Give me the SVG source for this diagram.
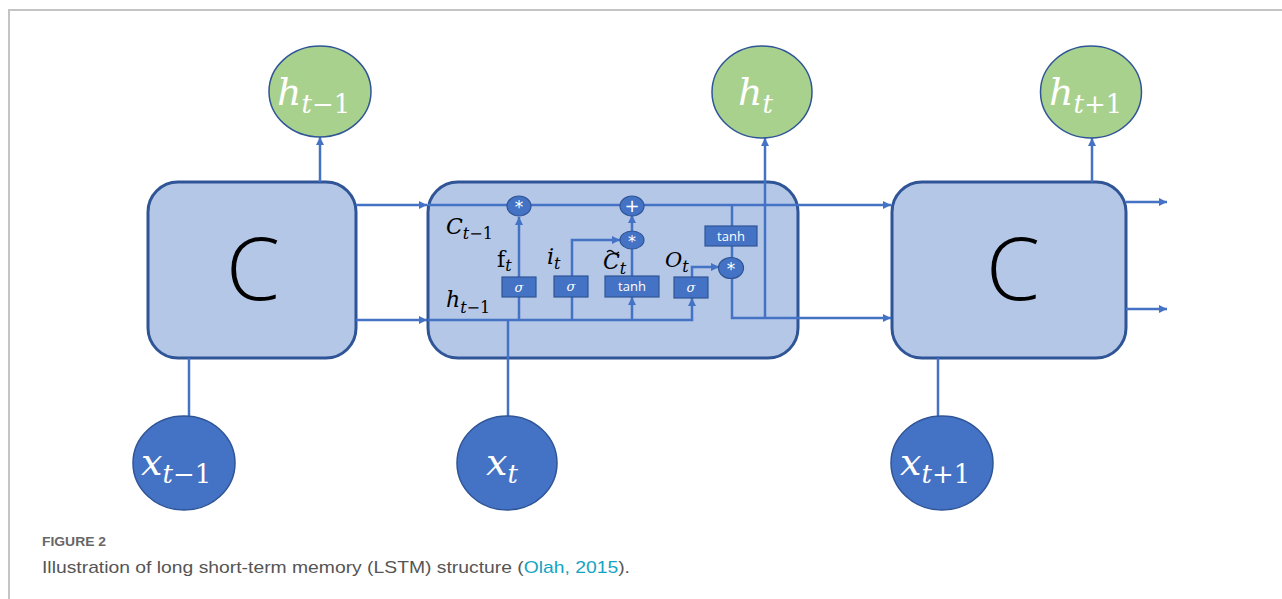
<svg xmlns="http://www.w3.org/2000/svg" width="1282" height="599" viewBox="0 0 1282 599">
<style>
.cell{fill:#b4c7e7;stroke:#2f5597;stroke-width:3}
.hc{fill:#a9d18e;stroke:#2f5597;stroke-width:1.5}
.xc{fill:#4472c4;stroke:#2f5597;stroke-width:1.5}
.op{fill:#4472c4;stroke:#2f5597;stroke-width:1.2}
.gate{fill:#4472c4;stroke:#2f5597;stroke-width:1.2}
.con{fill:none;stroke:#4472c4;stroke-width:2.5}
.arr{marker-end:url(#ah)}
.bigC{font-family:"Open Sans",Lato,sans-serif;font-weight:300;font-size:87px;fill:#000;text-anchor:middle}
.wl{font-family:"DejaVu Serif","Liberation Serif",serif;fill:#fff}
.bl{font-family:"DejaVu Serif","Liberation Serif",serif;fill:#000}
.it{font-style:italic}
.gt{font-family:"Open Sans","Liberation Sans",sans-serif;font-size:13px;fill:#fff;text-anchor:middle}
.sg{font-family:"DejaVu Serif","Liberation Serif",serif;font-style:italic;font-size:13px;fill:#fff;text-anchor:middle}
.sym{font-family:"DejaVu Sans","Liberation Sans",sans-serif;fill:#fff;text-anchor:middle}
.frame{fill:none;stroke:#c4c4c4;stroke-width:2}
</style>
<defs>
<marker id="ah" markerUnits="userSpaceOnUse" markerWidth="9" markerHeight="9" refX="8" refY="4" orient="auto">
<path d="M0,0 L8,4 L0,8 z" fill="#4472c4"/>
</marker>
</defs>
<rect width="1282" height="599" fill="#fff"/>
<path class="frame" d="M9,599 V10 H1282"/>

<g id="cell-left"><rect class="cell" x="148" y="182" width="208" height="176" rx="30"/><text class="bigC" x="253" y="300">C</text></g>
<g id="cell-mid"><rect class="cell" x="428" y="182" width="370" height="176" rx="30"/></g>
<g id="cell-right"><rect class="cell" x="892" y="182" width="234" height="176" rx="30"/><text class="bigC" x="1013" y="300">C</text></g>

<g id="connectors">
<path class="con arr" d="M356,205 H427"/>
<path class="con arr" d="M356,320 H427"/>
<path class="con arr" d="M428,205 H891"/>
<path class="con arr" d="M428,320 H692 V298"/>
<path class="con" d="M519,320 V297"/>
<path class="con arr" d="M519,277 V217"/>
<path class="con" d="M572,320 V297"/>
<path class="con arr" d="M572,276 V240 H620"/>
<path class="con arr" d="M632,320 V297"/>
<path class="con" d="M632,276 V249"/>
<path class="con arr" d="M632,231 V215"/>
<path class="con arr" d="M692,277 V267 H719"/>
<path class="con" d="M732,205 V226"/>
<path class="con" d="M732,246 V258"/>
<path class="con arr" d="M732,279 V318 H891"/>
<path class="con arr" d="M765,318 V138"/>
<path class="con" d="M508,416 V320"/>
<path class="con" d="M189,416 V358"/>
<path class="con arr" d="M320,182 V137"/>
<path class="con" d="M938,416 V358"/>
<path class="con arr" d="M1092,182 V138"/>
<path class="con arr" d="M1126,202 H1167"/>
<path class="con arr" d="M1126,309 H1167"/>
</g>

<g id="mul-f"><ellipse class="op" cx="519" cy="206" rx="12" ry="10"/><text class="sym" x="519" y="213" font-size="17">*</text></g>
<g id="add-c"><ellipse class="op" cx="632" cy="206" rx="12" ry="10"/><text class="sym" x="632" y="212" font-size="18">+</text></g>
<g id="mul-i"><ellipse class="op" cx="632" cy="240" rx="12" ry="9"/><text class="sym" x="632" y="247" font-size="16">*</text></g>
<g id="mul-o"><ellipse class="op" cx="731" cy="268" rx="12.5" ry="10.5"/><text class="sym" x="731" y="275" font-size="17">*</text></g>

<g id="gate-f"><rect class="gate" x="502" y="277" width="34" height="20"/><text class="sg" x="519" y="292">σ</text></g>
<g id="gate-i"><rect class="gate" x="554" y="276" width="34" height="21"/><text class="sg" x="571" y="291">σ</text></g>
<g id="gate-c"><rect class="gate" x="605" y="276" width="54" height="21"/><text class="gt" x="632" y="291">tanh</text></g>
<g id="gate-o"><rect class="gate" x="674" y="277" width="34" height="21"/><text class="sg" x="691" y="292">σ</text></g>
<g id="tanh-out"><rect class="gate" x="705" y="226" width="52" height="20"/><text class="gt" x="731" y="241">tanh</text></g>

<g id="lbl-c"><text class="bl" x="446" y="234" font-size="22"><tspan class="it">C</tspan><tspan font-size="16" dy="5"><tspan class="it">t</tspan>−1</tspan></text></g>
<g id="lbl-f"><text class="bl" x="497" y="267" font-size="22">f<tspan class="it" font-size="16" dy="4">t</tspan></text></g>
<g id="lbl-i"><text class="bl it" x="547" y="264" font-size="22">i<tspan font-size="16" dy="5">t</tspan></text></g>
<g id="lbl-ct"><text class="bl it" x="603" y="269" font-size="22">C<tspan font-size="16" dy="5">t</tspan></text><path d="M607,252 q3,-3 6,0 t6,0" fill="none" stroke="#000" stroke-width="1.4"/></g>
<g id="lbl-o"><text class="bl it" x="665" y="267" font-size="21">O<tspan font-size="16" dy="5">t</tspan></text></g>
<g id="lbl-h"><text class="bl" x="446" y="307" font-size="22"><tspan class="it">h</tspan><tspan font-size="16" dy="6"><tspan class="it">t</tspan>−1</tspan></text></g>

<g id="h-prev"><ellipse class="hc" cx="320" cy="91.5" rx="51" ry="45.5"/><text class="wl" x="277" y="105" font-size="38"><tspan class="it">h</tspan><tspan font-size="26" dy="8"><tspan class="it">t</tspan>−1</tspan></text></g>
<g id="h-cur"><ellipse class="hc" cx="762" cy="92" rx="50" ry="46"/><text class="wl" x="738" y="105" font-size="38"><tspan class="it">h</tspan><tspan class="it" font-size="26" dy="8">t</tspan></text></g>
<g id="h-next"><ellipse class="hc" cx="1091" cy="92" rx="50.5" ry="46"/><text class="wl" x="1049" y="105" font-size="38"><tspan class="it">h</tspan><tspan font-size="26" dy="8"><tspan class="it">t</tspan>+1</tspan></text></g>

<g id="x-prev"><ellipse class="xc" cx="184" cy="463" rx="51" ry="47"/><text class="wl" x="141" y="475" font-size="38"><tspan class="it">x</tspan><tspan font-size="26" dy="8"><tspan class="it">t</tspan>−1</tspan></text></g>
<g id="x-cur"><ellipse class="xc" cx="507" cy="463" rx="50" ry="47"/><text class="wl" x="486" y="475" font-size="38"><tspan class="it">x</tspan><tspan class="it" font-size="26" dy="8">t</tspan></text></g>
<g id="x-next"><ellipse class="xc" cx="942" cy="463" rx="51" ry="47"/><text class="wl" x="900" y="475" font-size="38"><tspan class="it">x</tspan><tspan font-size="26" dy="8"><tspan class="it">t</tspan>+1</tspan></text></g>

<g id="caption">
<text x="42" y="546" font-family="Liberation Sans,Arial,sans-serif" font-size="13" font-weight="bold" fill="#666" textLength="64" lengthAdjust="spacingAndGlyphs">FIGURE 2</text>
<text x="42" y="573" font-family="Liberation Sans,Arial,sans-serif" font-size="17" fill="#555" textLength="588" lengthAdjust="spacingAndGlyphs">Illustration of long short-term memory (LSTM) structure (<tspan fill="#13a4c4">Olah, 2015</tspan>).</text>
</g>
</svg>
